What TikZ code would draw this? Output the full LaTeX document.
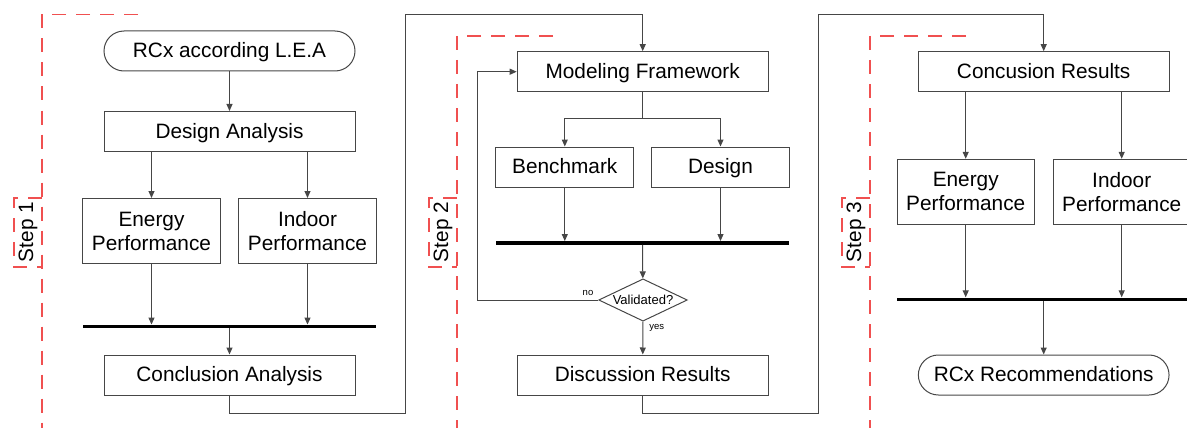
\documentclass[tikz,border=0pt]{standalone}
\usepackage{fontspec}
\setmainfont{Liberation Sans}
\usetikzlibrary{arrows.meta,shapes.geometric}
\definecolor{boxgray}{RGB}{70,70,70}
\definecolor{stepred}{RGB}{240,80,80}
\begin{document}
\begin{tikzpicture}[x=1pt, y=-1pt,
  box/.style={draw=boxgray, line width=1pt, rectangle, inner sep=0pt, align=center,
    font=\fontsize{20.8}{24}\selectfont, text height=17pt, text depth=4pt,
    minimum width=251pt, minimum height=40pt},
  halfbox/.style={box, text height={}, text depth={}, minimum width=137.3pt, minimum height=65pt},
  term/.style={box, rounded corners=20pt},
  bar/.style={fill=black, inner sep=0pt, minimum width=293.4pt, minimum height=3.5pt},
  test/.style={draw=boxgray, line width=1pt, diamond, aspect=2.1, inner sep=0pt,
    minimum width=88.6pt, minimum height=42.3pt, font=\fontsize{13}{15}\selectfont},
  tag/.style={inner sep=0pt, font=\fontsize{9.5}{11}\selectfont},
  arr/.style={draw=boxgray, line width=1pt, -{Triangle[length=7pt,width=6pt]}},
  link/.style={draw=boxgray, line width=1pt},
  stepline/.style={draw=stepred, line width=1.2pt, dash pattern=on 14pt off 10pt},
  steplabel/.style={rotate=90, inner sep=0pt, font=\fontsize{20.8}{24}\selectfont}]
\useasboundingbox (0,0) rectangle (1187,428);
\clip (0,0) rectangle (1187,428);

% step 1
\draw[stepline] (138,14.5) -- (42,14.5) -- (42,428);
\draw[stepline] (42,198) -- (14,198) -- (14,267) -- (42,267);
\node[steplabel] (s1) at (28,232) {Step 1};
\node[term] (rcx) at (229.5,51) {RCx according L.E.A};
\node[box] (dana) at (229.5,131.5) {Design Analysis};
\node[halfbox] (ep1) at (151.5,231) {Energy\\Performance};
\node[halfbox] (ip1) at (307.5,231) {Indoor\\Performance};
\node[bar] (bar1) at (229.5,326.5) {};
\node[box] (cana) at (229.5,375) {Conclusion Analysis};
\draw[arr] (rcx) -- (dana);
\draw[arr] (dana.south -| ep1) -- (ep1);
\draw[arr] (dana.south -| ip1) -- (ip1);
\draw[arr] (ep1) -- (ep1 |- bar1.north);
\draw[arr] (ip1) -- (ip1 |- bar1.north);
\draw[arr] (bar1) -- (cana);

% step 2
\draw[stepline] (553,36) -- (457,36) -- (457,428);
\draw[stepline] (457,198) -- (429,198) -- (429,267) -- (457,267);
\node[steplabel] (s2) at (443,232) {Step 2};
\node[box] (mf) at (642.7,71.7) {Modeling Framework};
\node[box, minimum width=137.7pt] (bench) at (564.8,167) {Benchmark};
\node[box, minimum width=137.7pt] (des) at (720.5,167) {Design};
\node[bar] (bar2) at (642.5,243) {};
\node[test] (val) at (643,300) {Validated?};
\node[tag] (no) at (588,293) {no};
\node[tag] (yes) at (656.7,328) {yes};
\node[box] (dres) at (642.7,375) {Discussion Results};
\coordinate (f2) at (642.7,118.7);
\coordinate (lp) at (477,300);
\draw[link] (mf) -- (f2);
\draw[arr] (f2) -| (bench);
\draw[arr] (f2) -| (des);
\draw[arr] (bench) -- (bench |- bar2.north);
\draw[arr] (des) -- (des |- bar2.north);
\draw[arr] (bar2) -- (val);
\draw[arr] (val) -- (lp) |- (mf);
\draw[arr] (val) -- (dres);

% step 3
\draw[stepline] (966,36) -- (870,36) -- (870,428);
\draw[stepline] (870,198) -- (842,198) -- (842,267) -- (870,267);
\node[steplabel] (s3) at (856,232) {Step 3};
\node[box, minimum width=250.7pt] (cres) at (1043.7,71.7) {Concusion Results};
\node[halfbox] (ep3) at (965.7,191.8) {Energy\\Performance};
\node[halfbox] (ip3) at (1121.7,191.8) {Indoor\\Performance};
\node[bar] (bar3) at (1043.7,299.3) {};
\node[term, minimum width=250.7pt] (rrec) at (1043.7,375) {RCx Recommendations};
\draw[arr] (cres.south -| ep3) -- (ep3);
\draw[arr] (cres.south -| ip3) -- (ip3);
\draw[arr] (ep3) -- (ep3 |- bar3.north);
\draw[arr] (ip3) -- (ip3 |- bar3.north);
\draw[arr] (bar3) -- (rrec);

% links between steps
\coordinate (j1a) at (405,413);
\coordinate (j1b) at (405,14.5);
\coordinate (j2a) at (818,413);
\coordinate (j2b) at (818,14.5);
\draw[arr] (cana.south) |- (j1a) -- (j1b) -| (mf);
\draw[arr] (dres.south) |- (j2a) -- (j2b) -| (cres);
\end{tikzpicture}
\end{document}
